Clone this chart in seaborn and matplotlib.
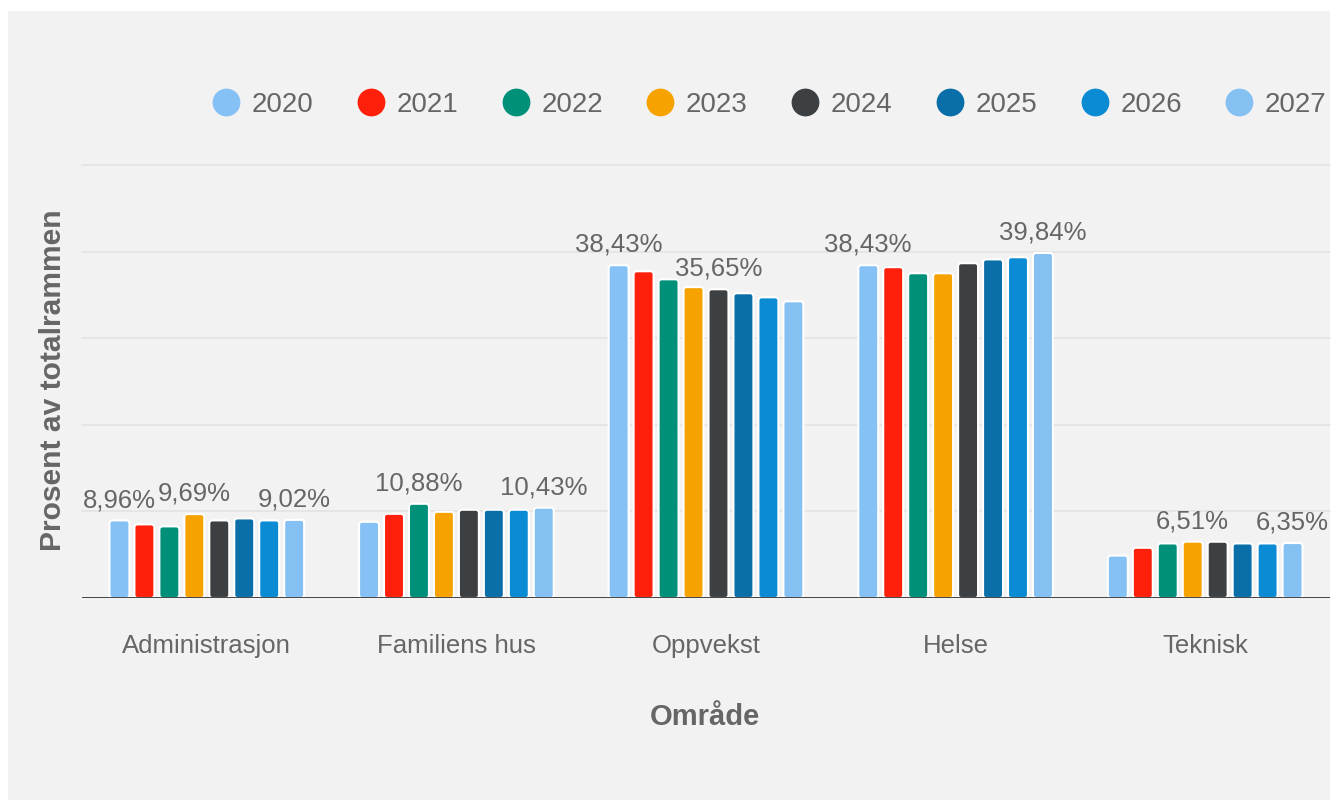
import matplotlib
matplotlib.use("Agg")
import matplotlib.pyplot as plt
from matplotlib.patches import Rectangle, FancyBboxPatch
from matplotlib.lines import Line2D
import seaborn as sns
import pandas as pd

categories = ["Administrasjon", "Familiens hus", "Oppvekst", "Helse", "Teknisk"]
years = ["2020", "2021", "2022", "2023", "2024", "2025", "2026", "2027"]
values = {
    "Administrasjon": [8.96, 8.50, 8.27, 9.69, 8.96, 9.19, 8.96, 9.02],
    "Familiens hus":  [8.80, 9.72, 10.88, 9.95, 10.19, 10.19, 10.19, 10.43],
    "Oppvekst":       [38.43, 37.73, 36.80, 35.90, 35.65, 35.19, 34.72, 34.26],
    "Helse":          [38.43, 38.20, 37.50, 37.50, 38.66, 39.10, 39.35, 39.84],
    "Teknisk":        [4.90, 5.80, 6.30, 6.51, 6.50, 6.30, 6.30, 6.35],
}
colors = ["#85c1f5", "#fe200b", "#00907a", "#f6a200", "#3c4042",
          "#0a6ea8", "#0b8bd3", "#85c0f3"]
labeled = {("Administrasjon", "2020"), ("Administrasjon", "2023"), ("Administrasjon", "2027"),
           ("Familiens hus", "2022"), ("Familiens hus", "2027"),
           ("Oppvekst", "2020"), ("Oppvekst", "2024"),
           ("Helse", "2020"), ("Helse", "2027"),
           ("Teknisk", "2023"), ("Teknisk", "2027")}

rows = []
for c in categories:
    for y, v in zip(years, values[c]):
        rows.append({"Område": c, "År": y, "Verdi": v})
df = pd.DataFrame(rows)

sns.set_theme(style="white")
plt.rcParams["font.family"] = ["Liberation Sans", "DejaVu Sans"]

W, H = 1338, 805
fig = plt.figure(figsize=(W / 100, H / 100), dpi=100)
fig.patch.set_facecolor("white")
fig.patches.append(Rectangle((8 / W, 1 - 800 / H), (1330 - 8) / W, (800 - 11) / H,
                             transform=fig.transFigure, facecolor="#f2f2f2",
                             edgecolor="none", zorder=-10))

ax_l, ax_r, ax_b, ax_t = 82, 1330, 598, 165
ax = fig.add_axes([ax_l / W, 1 - ax_b / H, (ax_r - ax_l) / W, (ax_b - ax_t) / H])
ax.set_facecolor("none")

sns.barplot(data=df, x="Område", y="Verdi", hue="År", order=categories,
            hue_order=years, palette=colors, ax=ax, gap=0.2, legend=False,
            edgecolor="white", linewidth=1.5, saturation=1, zorder=3)

ax.set_xlim(-0.5, 4.5)
ax.set_ylim(0, 50)

# rounded tops
px_x = 5 / (ax_r - ax_l)
px_y = 50 / (ax_b - ax_t)
aspect = px_y / px_x
new_patches = []
for p in list(ax.patches):
    x, y0 = p.get_x(), p.get_y()
    w, h = p.get_width(), p.get_height()
    fb = FancyBboxPatch((x, y0), w, h,
                        boxstyle=f"round,pad=0,rounding_size={3 * px_x}",
                        mutation_aspect=aspect,
                        facecolor=p.get_facecolor(), edgecolor="white",
                        linewidth=1.5, zorder=3)
    new_patches.append(fb)
    p.set_visible(False)
for fb in new_patches:
    ax.add_patch(fb)

# data labels
for i, cont in enumerate(ax.containers):
    for j, bar in enumerate(cont):
        if (categories[j], years[i]) in labeled:
            v = values[categories[j]][i]
            ax.annotate(f"{v:.2f}%".replace(".", ","),
                        (bar.get_x() + bar.get_width() / 2, bar.get_height()),
                        xytext=(0, 6), textcoords="offset points",
                        ha="center", va="bottom", fontsize=18.5, color="#666666",
                        annotation_clip=False, zorder=5)

for yv in [10, 20, 30, 40, 50]:
    ax.axhline(yv, color="#e3e3e3", lw=1.2, zorder=1, clip_on=False)
ax.axhline(0, color="#333333", lw=2, zorder=4)

for s in ax.spines.values():
    s.set_visible(False)
ax.set_yticks([])
ax.set_xlabel("")
ax.set_ylabel("")
ax.tick_params(axis="x", length=0, pad=26, labelsize=18.5, labelcolor="#666666")

fig.text(53 / W, 1 - 380 / H, "Prosent av totalrammen", rotation=90,
         ha="center", va="center", fontsize=21.6, fontweight="bold", color="#666666")
fig.text(705 / W, 1 - 717 / H, "Område", ha="center", va="center",
         fontsize=21, fontweight="bold", color="#666666")

handles = [Line2D([0], [0], marker="o", linestyle="none", markersize=20,
                  markerfacecolor=c, markeredgecolor="none") for c in colors]
fig.legend(handles, years, loc="center left",
           bbox_to_anchor=(212 / W, 1 - 105 / H), ncol=8, frameon=False,
           fontsize=20, labelcolor="#666666", handlelength=1.0,
           handletextpad=0.43, columnspacing=1.56, borderpad=0,
           borderaxespad=0)

fig.savefig("out.png", dpi=100, facecolor=fig.get_facecolor())
